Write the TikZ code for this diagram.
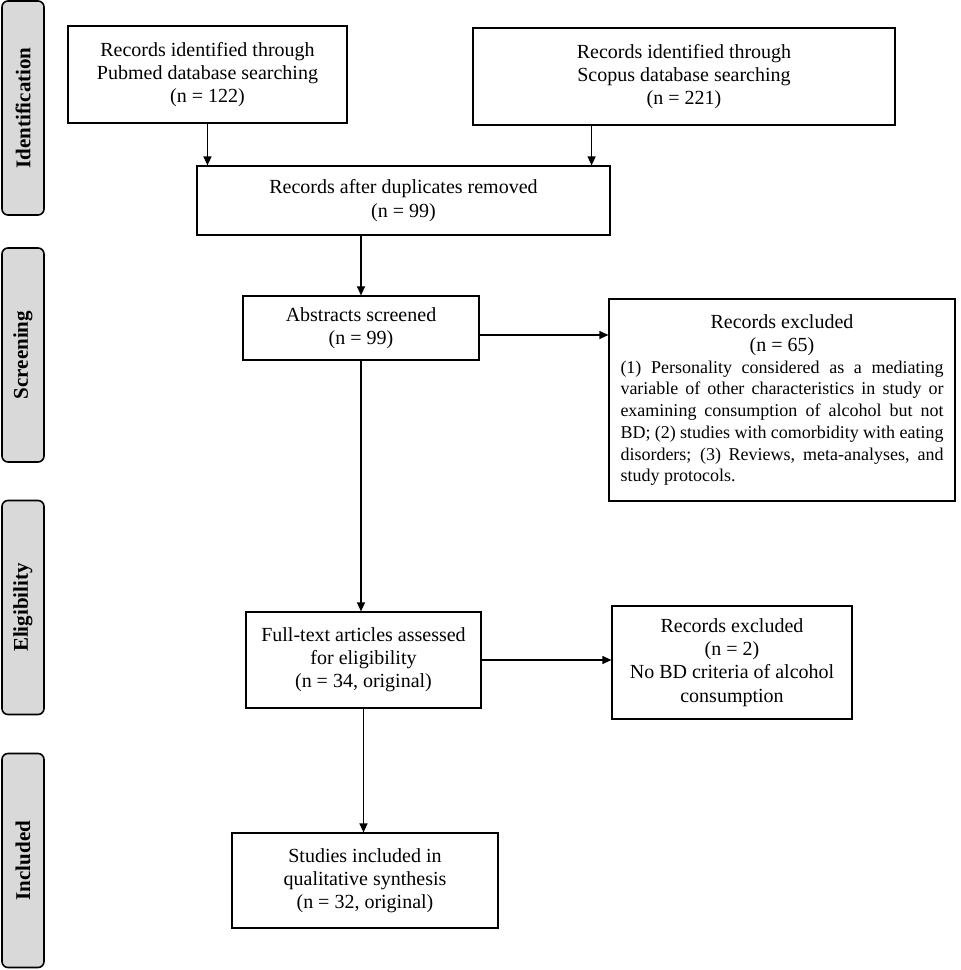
\documentclass[tikz,border=0pt]{standalone}
\usepackage{fontspec}
\setmainfont{Liberation Serif}
\usetikzlibrary{arrows.meta}
\tikzset{
  box/.style={draw, line width=0.6pt, inner sep=0pt, align=center,
    font=\fontsize{10}{11.6}\selectfont},
  tab/.style={draw, line width=0.8pt, fill=black!15, rounded corners=3pt,
    rotate=90, inner sep=0pt, minimum width=107pt, minimum height=21pt,
    font=\fontsize{10.5}{12}\selectfont\bfseries},
  arr/.style={line width=0.6pt, -{Triangle[length=4.5pt,width=4pt]}}
}
\newcommand{\fullline}[1]{\hbox to\hsize{#1}}
\begin{document}
\begin{tikzpicture}[x=0.5pt, y=-0.5pt]
		\useasboundingbox (0,0) rectangle (960,970);
		
		% Phase tabs
		\node[tab] (ident) at (23,108) {Identification};
		\node[tab] (screen) at (23,355) {Screening};
		\node[tab] (elig) at (23,607.5) {Eligibility};
		\node[tab] (incl) at (23,860.5) {Included};
		
		% Identification
		\node[box, minimum width=139.5pt, minimum height=48.5pt] (pub) at (207.5,74.5)
		{Records identified through\\Pubmed database searching\\(n = 122)};
		\node[box, minimum width=211pt, minimum height=48.5pt] (sco) at (684,76.5)
		{Records identified through\\Scopus database searching\\(n = 221)};
		\node[box, minimum width=206.5pt, minimum height=34.5pt] (dup) at (403.5,200.5)
		{Records after duplicates removed\\(n = 99)};
		
		% Screening
		\node[box, minimum width=118pt, minimum height=32pt] (abs) at (361,328)
		{Abstracts screened\\(n = 99)};
		\node[box, minimum width=173pt, minimum height=101pt, text width=161.5pt,
		  align=justify] (ex1) at (782,400)
		{{\centering Records excluded\\(n = 65)\par}
		\fontsize{9}{10.85}\selectfont
		\fullline{(1) Personality considered as a mediating}
		\fullline{variable of other characteristics in study or}
		\fullline{examining consumption of alcohol but not}
		\fullline{BD; (2) studies with comorbidity with eating}
		\fullline{disorders; (3) Reviews, meta-analyses, and}
		\fullline{study protocols.\hfil}};
		
		% Eligibility
		\node[box, minimum width=117.5pt, minimum height=48pt] (ft) at (363.5,660)
		{Full-text articles assessed\\for eligibility\\(n = 34, original)};
		\node[box, minimum width=120pt, minimum height=56.5pt] (ex2) at (732,662.5)
		{Records excluded\\(n = 2)\\No BD criteria of alcohol\\consumption};
		
		% Included
		\node[box, minimum width=133pt, minimum height=47.5pt] (st) at (365,880.5)
		{Studies included in\\qualitative synthesis\\(n = 32, original)};
		
		% Arrows
		\coordinate (scoin) at ([xshift=-9.5pt]dup.north east);
		\draw[arr] (pub.south) -- (pub.south |- dup.north);
		\draw[arr] (scoin |- sco.south) -- (scoin);
		\draw[arr] (dup.south -| abs.north) -- (abs.north);
		\draw[arr] ([yshift=-3.5pt]abs.east) -- ([yshift=-3.5pt]abs.east -| ex1.west);
		\draw[arr] (abs.south) -- (abs.south |- ft.north);
		\draw[arr] (ft.east) -- (ft.east -| ex2.west);
		\draw[arr] (ft.south) -- (ft.south |- st.north);
	\end{tikzpicture}
\end{document}
